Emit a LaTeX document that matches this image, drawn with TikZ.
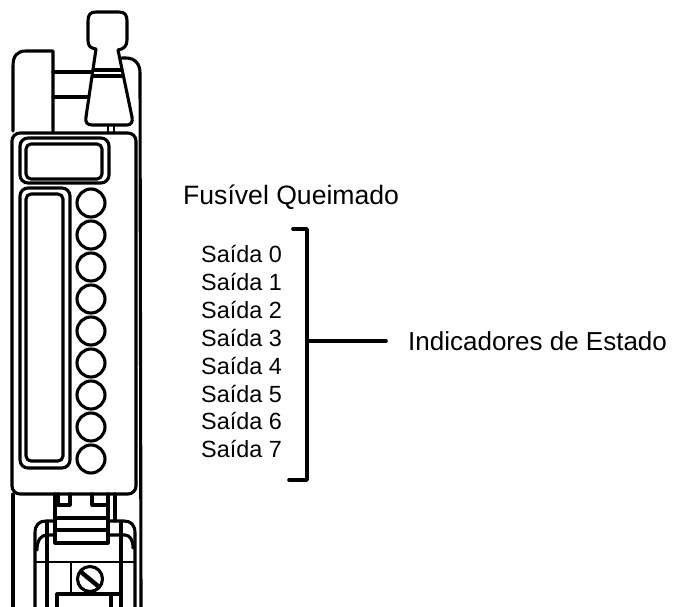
\documentclass[tikz,border=0pt]{standalone}
\usepackage{fontspec}
\setmainfont{Liberation Sans}
\tikzset{
    part/.style={line width=3.1pt},
    thinpart/.style={line width=2.2pt},
    biglabel/.style={anchor=base west,inner sep=0pt,font=\fontsize{26.6}{30}\selectfont},
    statelabel/.style={anchor=base west,inner sep=0pt,font=\fontsize{26}{30}\selectfont},
    smalllabel/.style={anchor=base west,inner sep=0pt,font=\fontsize{23.4}{28}\selectfont},
    brace/.style={line width=3.6pt,line cap=round,line join=round}
}

\begin{document}
\begin{tikzpicture}[line cap=round,line join=round,x=1pt,y=-1pt]
    \useasboundingbox (0,0) rectangle (677,607);

    % lever
    \draw[part] (96,49) .. controls (90,48) and (88,46) .. (88,40) -- (88,21)
        .. controls (88,15) and (90,12) .. (96,12) -- (119,12)
        .. controls (125,12) and (127,15) .. (127,21) -- (127,40)
        .. controls (127,46) and (124,49) .. (118,50) -- (132,117)
        .. controls (133,122) and (131,125) .. (127,125) -- (92,125)
        .. controls (87,125) and (85,122) .. (86,117) -- cycle;
    \draw[part] (94,70) -- (121,70);
    \draw[part] (93,76) -- (122,76);
    \draw[thinpart] (108,125) -- (108,132);
    \draw[thinpart] (114,125) -- (114,132);

    % housing
    \draw[part] (13,131) -- (13,66) .. controls (13,56) and (17,51) .. (26,51) -- (53,51) -- (53,131);
    \draw[part] (53,72) -- (92,72);
    \draw[part] (53,97) -- (88,97);
    \draw[part] (122,58) -- (126,58) .. controls (135,58) and (140,64) .. (140,73) -- (141,607);
    \draw[part] (13,494) -- (13,607);

    % front panel
    \draw[part,rounded corners=8pt] (12,133) rectangle (136,494);
    \draw[part,rounded corners=8pt] (20,138) rectangle (109,183);
    \draw[part,rounded corners=5pt] (26,144) rectangle (102,179);
    \draw[part,rounded corners=8pt] (20,188) rectangle (70,468);
    \draw[part,rounded corners=5pt] (26,194) rectangle (63,461);

    % lamps
    \foreach \i/\y in {0/203,1/235,2/267,3/299,4/331,5/363,6/395,7/427,8/459}
        \draw[part] (91,\y) circle (14pt);

    % latch
    \draw[part] (55,494) -- (55,543) -- (108,543) -- (108,494);
    \draw[part] (115,494) -- (115,521);
    \draw[part] (58,494) -- (58,505) -- (70,505) -- (70,494);
    \draw[part] (92,494) -- (92,505) -- (107,505);
    \draw[part] (57,518) -- (107,518);
    \draw[part] (57,530) -- (107,530);

    % base
    \draw[part] (35,607) -- (35,533) .. controls (35,525) and (39,521) .. (46,521) -- (55,521);
    \draw[part] (108,521) -- (124,521) .. controls (131,521) and (135,525) .. (135,533) -- (135,607);
    \draw[part] (37,550) .. controls (37,540) and (41,535) .. (47,535) -- (55,535);
    \draw[part] (108,535) -- (125,535) .. controls (130,535) and (133,540) .. (133,548);
    \draw[part] (47,522) -- (47,607);
    \draw[part] (121,522) -- (121,607);
    \draw[thinpart] (36,562) -- (134,562);
    \draw[thinpart] (71,563) -- (71,592);
    \draw[part] (57,607) -- (57,594) -- (121,594);
    \draw[part] (111,594) -- (111,607);

    % screw
    \draw[part] (90,579) circle (12.5pt);
    \draw[line width=4.4pt] (81,572) -- (98,586);

    % labels
    \node[biglabel] (lblFuse) at (183,204) {Fusível Queimado};
    \foreach \i in {0,...,7}
        \node[smalllabel] (lblOut\i) at (201,262.5+27.9*\i) {Saída \i};
    \node[statelabel] (lblState) at (408,350) {Indicadores de Estado};

    \coordinate (brcTop) at (293,229);
    \coordinate (brcBot) at (289,480);
    \coordinate (brcMid) at (307,341);

    \draw[brace] (brcTop) -- (307,229) -- (307,480) -- (brcBot);
    \draw[brace,shorten >=22pt] (brcMid) -- (brcMid -| lblState.west);
\end{tikzpicture}
\end{document}
